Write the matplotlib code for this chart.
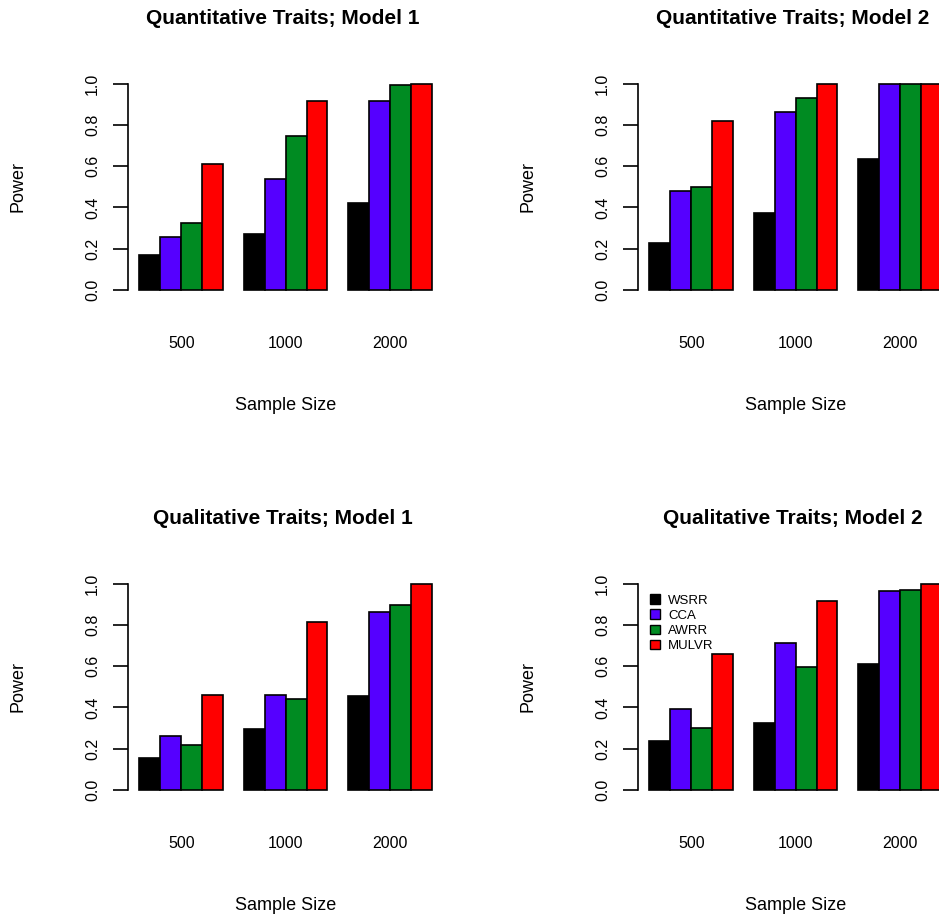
import numpy as np
import matplotlib.pyplot as plt
from matplotlib.patches import Patch

plt.rcParams['font.family'] = ['Liberation Sans', 'DejaVu Sans']

sizes = ['500', '1000', '2000']
methods = ['WSRR', 'CCA', 'AWRR', 'MULVR']
colors = ['#000000', '#5500FF', '#008B22', '#FF0000']
titles = ['Quantitative Traits; Model 1', 'Quantitative Traits; Model 2',
          'Qualitative Traits; Model 1', 'Qualitative Traits; Model 2']

# power[method][sample size]
quant_m1 = [[0.168, 0.269, 0.422],
            [0.256, 0.540, 0.916],
            [0.322, 0.748, 0.994],
            [0.610, 0.914, 1.000]]
quant_m2 = [[0.225, 0.374, 0.633],
            [0.477, 0.864, 1.000],
            [0.498, 0.932, 1.000],
            [0.820, 1.000, 1.000]]
qual_m1 = [[0.154, 0.296, 0.456],
           [0.262, 0.458, 0.861],
           [0.217, 0.439, 0.895],
           [0.460, 0.814, 0.997]]
qual_m2 = [[0.238, 0.322, 0.610],
           [0.393, 0.714, 0.964],
           [0.298, 0.597, 0.972],
           [0.659, 0.916, 1.000]]
panels = [quant_m1, quant_m2, qual_m1, qual_m2]

W, H = 939, 917
fig = plt.figure(figsize=(W / 100, H / 100), dpi=100)

pw, ph = 316, 222.5
for k, data in enumerate(panels):
    r, c = divmod(k, 2)
    left = 127.7 + 510 * c
    top = 75.5 + 500 * r
    ax = fig.add_axes([left / W, 1 - (top + ph) / H, pw / W, ph / H])

    # R barplot layout: bar width 1, one unit gap between groups
    for j in range(len(methods)):
        xs = [1 + g * 5 + j + 0.5 for g in range(len(sizes))]
        ax.bar(xs, data[j], width=1.0, color=colors[j], edgecolor='black',
               linewidth=1.2, label=methods[j])
    ax.set_xlim(1 - 0.56, 15 + 0.56)
    ax.set_ylim(-0.04, 1.04)
    for s in ['top', 'right', 'bottom']:
        ax.spines[s].set_visible(False)
    ax.spines['left'].set_bounds(0, 1)
    ax.spines['left'].set_linewidth(1.2)
    ax.set_yticks(np.arange(0, 1.01, 0.2))
    ax.set_yticklabels(['%.1f' % v for v in np.arange(0, 1.01, 0.2)],
                       rotation=90, va='center', fontsize=11.5)
    ax.tick_params(axis='y', length=11, width=1.2, pad=9)
    ax.set_xticks([3, 8, 13])
    ax.set_xticklabels(sizes, fontsize=11.5)
    ax.tick_params(axis='x', length=0, pad=27)

    cx = left + pw / 2
    fig.text(cx / W - 0.003, 1 - (19 + 500 * r) / H, titles[k], ha='center',
             va='center', fontsize=15, fontweight='bold')
    fig.text(cx / W, 1 - (405 + 500 * r) / H, 'Sample Size', ha='center',
             va='center', fontsize=13)
    fig.text((18 + 510 * c) / W, 1 - (187 + 500 * r) / H, 'Power',
             rotation=90, ha='center', va='center', fontsize=13)

    if k == 3:
        handles = [Patch(facecolor=colors[j], edgecolor='black', linewidth=1)
                   for j in range(len(methods))]
        ax.legend(handles, methods, loc='upper left',
                  bbox_to_anchor=(0.04, 0.915), frameon=False, fontsize=9.5,
                  handlelength=0.75, handleheight=0.75, labelspacing=0.2,
                  handletextpad=0.6, borderpad=0, borderaxespad=0)

fig.savefig('out.png', dpi=100)
